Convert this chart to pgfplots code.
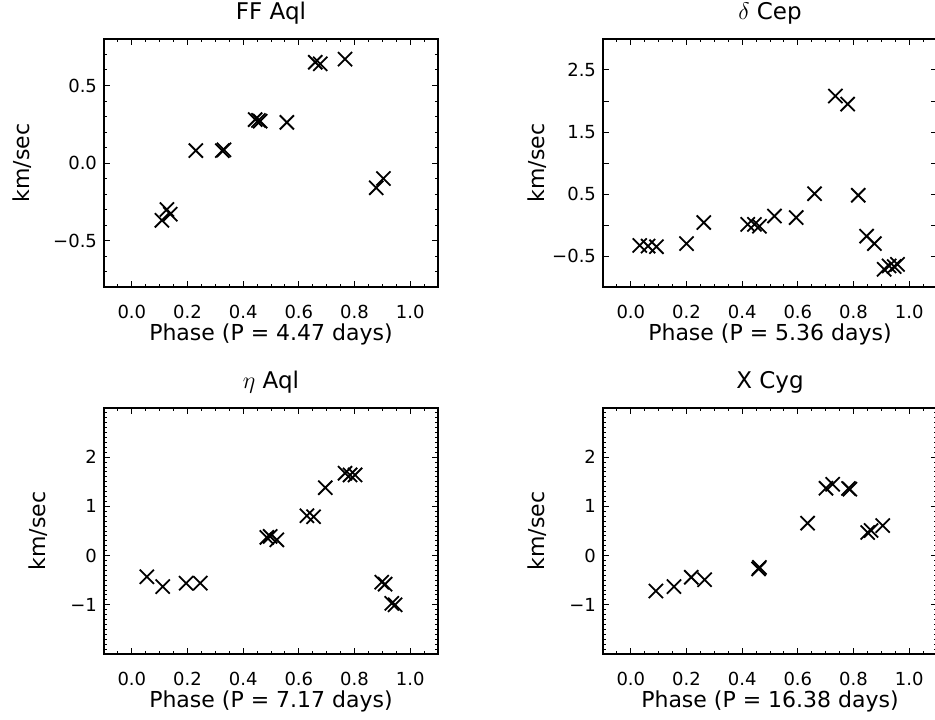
\documentclass[border=0pt]{standalone}
\usepackage{fontspec}
\setmainfont{DejaVu Sans}
\usepackage{pgfplots}
\pgfplotsset{compat=1.18}

\pgfplotsset{
  panel/.style={
    width=167pt, height=124pt, scale only axis, anchor=south west,
    xmin=-0.1, xmax=1.1,
    xtick={0,0.2,0.4,0.6,0.8,1},
    xticklabels={0.0,0.2,0.4,0.6,0.8,1.0},
    minor xtick={-0.05,0.05,0.1,0.15,0.25,0.3,0.35,0.45,0.5,0.55,0.65,0.7,0.75,0.85,0.9,0.95,1.05},
    tick align=inside,
    major tick length=3pt, minor tick length=1.5pt,
    every tick/.style={black, line width=0.5pt},
    axis line style={line width=1pt},
    tick label style={font=\fontsize{9}{10}\selectfont},
    xticklabel style={yshift=-5.5pt},
    label style={font=\fontsize{11}{12}\selectfont},
    every axis title shift=0pt,
    title style={font=\fontsize{11.5}{12}\selectfont, at={(0.5,1)}, anchor=center, yshift=13pt},
    xlabel style={at={(0.5,0)}, anchor=center, yshift=-23.5pt},
    ylabel={km/sec},
    ylabel style={at={(-0.1976,0.5)}, anchor=center},
  },
  pts/.style={only marks, mark=x, mark size=5pt, black, line width=0.9pt},
}

\begin{document}
\begin{tikzpicture}
\useasboundingbox (0,0) rectangle (467.5pt,359.5pt);

% FF Aql
\begin{axis}[panel, at={(52pt,216pt)},
    title={FF Aql}, xlabel={Phase (P = 4.47 days)},
    ylabel style={at={(-0.2455,0.5)}},
    ymin=-0.8, ymax=0.8,
    ytick={-0.5,0,0.5}, yticklabels={−0.5,0.0,0.5},
    minor ytick={-0.7,-0.6,-0.4,-0.3,-0.2,-0.1,0.1,0.2,0.3,0.4,0.6,0.7}]
  \addplot[pts] coordinates {
    (0.108,-0.37)(0.126,-0.30)(0.138,-0.33)(0.230,0.08)
    (0.325,0.08)(0.331,0.085)(0.443,0.28)(0.455,0.275)(0.461,0.27)
    (0.557,0.262)(0.659,0.65)(0.677,0.64)(0.766,0.67)
    (0.878,-0.16)(0.904,-0.10)};
\end{axis}

% delta Cep
\begin{axis}[panel, at={(301.5pt,216pt)},
    title={$\delta$ Cep}, xlabel={Phase (P = 5.36 days)},
    ymin=-1, ymax=3,
    ytick={-0.5,0,0.5,1,1.5,2,2.5},
    yticklabels={−0.5,{},0.5,{},1.5,{},2.5}]
  \addplot[pts] coordinates {
    (0.032,-0.33)(0.062,-0.34)(0.092,-0.35)(0.200,-0.30)(0.262,0.04)
    (0.420,0.01)(0.444,0.01)(0.462,-0.02)(0.516,0.145)(0.594,0.12)
    (0.660,0.505)(0.735,2.08)(0.779,1.95)(0.817,0.48)(0.847,-0.18)
    (0.875,-0.30)(0.910,-0.715)(0.928,-0.66)(0.946,-0.67)(0.958,-0.635)};
\end{axis}

% eta Aql
\begin{axis}[panel, at={(52pt,32.5pt)}, height=123pt,
    title={$\eta$ Aql}, xlabel={Phase (P = 7.17 days)},
    ymin=-2, ymax=3,
    ytick={-2,-1,0,1,2,3}, yticklabels={{},−1,0,1,2,{}},
    minor tick num=9]
  \addplot[pts] coordinates {
    (0.054,-0.43)(0.111,-0.63)(0.195,-0.56)(0.246,-0.56)
    (0.485,0.37)(0.497,0.39)(0.521,0.32)(0.629,0.81)(0.653,0.79)
    (0.695,1.38)(0.766,1.675)(0.784,1.64)(0.802,1.64)
    (0.898,-0.54)(0.910,-0.58)(0.934,-0.97)(0.946,-1.0)};
\end{axis}

% X Cyg
\begin{axis}[panel, at={(301.5pt,32.5pt)}, height=123pt,
    title={X Cyg}, xlabel={Phase (P = 16.38 days)},
    ymin=-2, ymax=3,
    ytick={-2,-1,0,1,2,3}, yticklabels={{},−1,0,1,2,{}},
    minor tick num=9]
  \addplot[pts] coordinates {
    (0.090,-0.72)(0.155,-0.63)(0.217,-0.44)(0.265,-0.49)
    (0.459,-0.27)(0.462,-0.24)(0.635,0.66)(0.701,1.37)(0.725,1.45)
    (0.782,1.365)(0.787,1.35)(0.851,0.47)(0.863,0.51)(0.905,0.61)};
\end{axis}
\end{tikzpicture}
\end{document}
